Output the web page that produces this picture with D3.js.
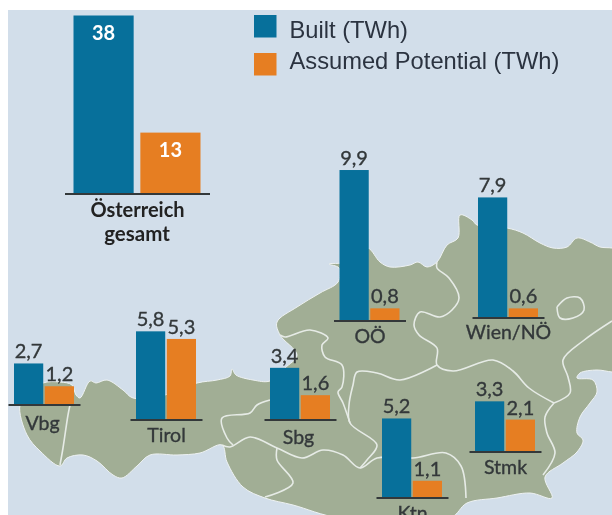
<!DOCTYPE html>
<html>
<head>
<meta charset="utf-8">
<style>
  html, body { margin: 0; padding: 0; background: #fff; }
  svg { display: block; filter: blur(0.4px); }
  text { font-family: Lato, "Open Sans", sans-serif; }
</style>
<script src="https://cdn.jsdelivr.net/npm/d3@7"></script>
</head>
<body>
<div id="chart"></div>
<script>
// data
var seriesNames = ["Built (TWh)", "Assumed Potential (TWh)"];
var regions = ["Vbg", "Tirol", "Sbg", "Ktn", "Stmk", "OÖ", "Wien/NÖ"];
var builtValues = [2.7, 5.8, 3.4, 5.2, 3.3, 9.9, 7.9];
var potentialValues = [1.2, 5.3, 1.6, 1.1, 2.1, 0.8, 0.6];
var totalName = ["Österreich", "gesamt"];
var totalValues = [38, 13];

// where each little chart sits on the map: left edge of first bar, baseline
var regionX = [14, 136, 270, 382, 475, 339.5, 478];
var regionY = [404.5, 419.5, 419.5, 497.5, 451.5, 320.5, 317.5];
// small nudges of the region names
var labelDx = [-2, 0, -2, 0, 0, 0, 0];
var labelDy = [3, 0, 2, 0, 0, 0, -1];

var colors = ["#07709b", "#e67e22"];
var bg = "#d2deea";
var land = "#a1ae95";
var ink = "#33383a";

// map shapes, traced
var outline = [[20,405],[30,393],[43,383],[60,382],[72,385],[76,395],[80,398],[90,381],[96,383],[107,380],[123,390],[133,398],
  [165,395],[197,383],[217,380],[230,376],[232,369],[236,375],[253,380],[270,381],[285,368],[297,355],[280,335],[277,322],
  [297,307],[320,293],[338,282],[339,268],[329,264],[345,262],[355,250],[368,248],[380,262],[390,267],[410,265],[418,262],[427,267],[437,262],
  [447,245],[458,238],[460,215],[472,220],[477,225],[507,228],[523,233],[540,243],[553,248],[567,247],[577,238],[590,242],[600,247],[612,248],
  [620,250],[620,372],[612,372],[597,370],[580,373],[577,378],[593,380],[597,392],[590,403],[580,417],[577,433],[583,440],[577,452],[563,463],[545,477],[552,498],
  [530,493],[497,498],[467,503],[450,518],[340,518],[293,505],[265,498],[243,487],[227,462],[222,445],[200,453],[177,455],[150,455],[137,466],
  [122,478],[113,475],[97,461],[83,455],[67,458],[60,466],[40,451],[27,435]];

var borders = [
  [[70,405],[68,415],[63,448],[60,465]],
  [[233,445],[227,438],[222,418],[250,413],[257,405],[270,400]],
  [[222,445],[230,447],[250,437],[277,448],[302,458],[323,450],[343,455],[360,468],[377,458],[413,458],[446,453],[461,466],[466,498]],
  [[277,448],[277,460],[293,483],[265,497]],
  [[360,468],[367,460],[377,445],[350,423],[349,405],[353,385],[357,372],[377,373],[400,380],[437,365]],
  [[280,335],[285,337],[310,330],[328,338],[322,345],[325,357],[342,365],[342,387],[338,392],[343,403],[350,423]],
  [[437,262],[437,268],[449,278],[459,298],[452,310],[440,317],[420,312],[414,325],[419,335],[437,348],[437,365],[453,371],[493,360],[513,371],[529,388],[554,403]],
  [[554,403],[545,417],[547,433],[555,453],[543,475]],
  [[554,403],[570,393],[568,377],[563,360],[583,341],[612,321]]
];
var lake = [[557,307],[567,298],[580,298],[584,310],[573,318],[560,318],[557,307]];

var svgWidth = 612, svgHeight = 515;

var svg = d3.select("#chart").append("svg")
  .attr("width", svgWidth)
  .attr("height", svgHeight);

svg.append("clipPath").attr("id", "panel").append("rect")
  .attr("x", 8).attr("y", 10)
  .attr("width", svgWidth - 8).attr("height", svgHeight - 10);

svg.append("rect")
  .attr("x", 8).attr("y", 10)
  .attr("width", svgWidth - 8).attr("height", svgHeight - 10)
  .attr("fill", bg);

// background map
var coast = d3.line().curve(d3.curveCatmullRomClosed.alpha(0.5));
var mapLine = d3.line().curve(d3.curveCatmullRom.alpha(0.5));
var mapGroup = svg.append("g").attr("clip-path", "url(#panel)");

mapGroup.append("path")
  .attr("d", coast(outline))
  .attr("fill", land)
  .attr("stroke", "#eef2f3")
  .attr("stroke-width", 1)
  .attr("stroke-linejoin", "round");

mapGroup.selectAll("path.border")
  .data(borders.concat([lake]))
  .enter()
  .append("path")
  .attr("class", "border")
  .attr("d", d => mapLine(d))
  .attr("fill", "none")
  .attr("stroke", "#e6ebe6")
  .attr("stroke-width", 1.6)
  .attr("stroke-linejoin", "round");

// regional scales, all small charts share one
var barsWidth = 60;
var yRegion = d3.scaleLinear().domain([0, 10]).range([0, 152]);
var xSeries = d3.scaleBand().domain([0, 1]).range([0, barsWidth]).paddingInner(0.05);

function drawRegion(i) {
  var g = svg.append("g").attr("transform", `translate(${regionX[i]}, ${regionY[i]})`);
  var vals = [builtValues[i], potentialValues[i]];

  g.selectAll("rect")
    .data(vals)
    .enter()
    .append("rect")
    .attr("x", (d, j) => xSeries(j))
    .attr("y", d => -yRegion(d))
    .attr("width", xSeries.bandwidth())
    .attr("height", d => yRegion(d))
    .attr("fill", (d, j) => colors[j]);

  g.selectAll("text.value")
    .data(vals)
    .enter()
    .append("text")
    .attr("class", "value")
    .attr("x", (d, j) => xSeries(j) + xSeries.bandwidth() / 2)
    .attr("y", d => -yRegion(d) - 5)
    .attr("text-anchor", "middle")
    .attr("font-size", 20)
    .attr("fill", ink)
    .attr("stroke", ink)
    .attr("stroke-width", 0.35)
    .text(d => d3.format(".1f")(d).replace(".", ","));

  var xAxis = d3.axisBottom(d3.scalePoint().domain([regions[i]]).range([-6, barsWidth + 6]))
    .tickSize(0).tickPadding(8);
  var axisG = g.append("g").call(xAxis);
  axisG.select(".domain").attr("stroke", ink).attr("stroke-width", 2);
  axisG.selectAll("text")
    .attr("font-size", 19.5)
    .attr("dx", labelDx[i])
    .attr("dy", 14 + labelDy[i])
    .attr("fill", ink)
    .attr("stroke", ink)
    .attr("stroke-width", 0.35)
    .style("font-family", "Lato, sans-serif");
}

regions.forEach((r, i) => drawRegion(i));

// Austria total, its own scale
var totalG = svg.append("g").attr("transform", "translate(73.5, 193.5)");
var yTotal = d3.scaleLinear().domain([0, 38]).range([0, 178]);
var xTotal = d3.scaleBand().domain([0, 1]).range([0, 127]).paddingInner(0.1);

totalG.selectAll("rect")
  .data(totalValues)
  .enter()
  .append("rect")
  .attr("x", (d, j) => xTotal(j))
  .attr("y", d => -yTotal(d))
  .attr("width", xTotal.bandwidth())
  .attr("height", d => yTotal(d))
  .attr("fill", (d, j) => colors[j]);

totalG.selectAll("text.value")
  .data(totalValues)
  .enter()
  .append("text")
  .attr("class", "value")
  .attr("x", (d, j) => xTotal(j) + xTotal.bandwidth() / 2)
  .attr("y", d => -yTotal(d) + 24)
  .attr("text-anchor", "middle")
  .attr("font-size", 20)
  .attr("font-weight", 700)
  .attr("fill", "#fff")
  .text(d => d);

var totalAxis = d3.axisBottom(d3.scalePoint().domain([totalName[0]]).range([-9, 136]))
  .tickSize(0).tickPadding(8);
var totalAxisG = totalG.append("g").call(totalAxis);
totalAxisG.select(".domain").attr("stroke", ink).attr("stroke-width", 2);
totalAxisG.selectAll("text")
  .attr("font-size", 20).attr("font-weight", 700).attr("fill", "#222")
  .attr("dy", 15)
  .style("font-family", "Lato, sans-serif");

totalG.append("text")
  .attr("x", 63.5).attr("y", 47.5)
  .attr("text-anchor", "middle")
  .attr("font-size", 20.5).attr("font-weight", 700).attr("fill", "#222")
  .text(totalName[1]);

// legend
var legend = svg.selectAll("g.legend")
  .data(seriesNames)
  .enter()
  .append("g")
  .attr("class", "legend")
  .attr("transform", (d, i) => `translate(254, ${15 + i * 38})`);

legend.append("rect")
  .attr("width", 22.5).attr("height", 22.5)
  .attr("fill", (d, i) => colors[i]);

legend.append("text")
  .attr("x", 35.5).attr("y", (d, i) => 23 - i * 7)
  .attr("font-size", 23.7)
  .attr("fill", "#2b3340")
  .style("font-family", "'Liberation Sans', Arial, sans-serif")
  .text(d => d);
</script>
</body>
</html>
